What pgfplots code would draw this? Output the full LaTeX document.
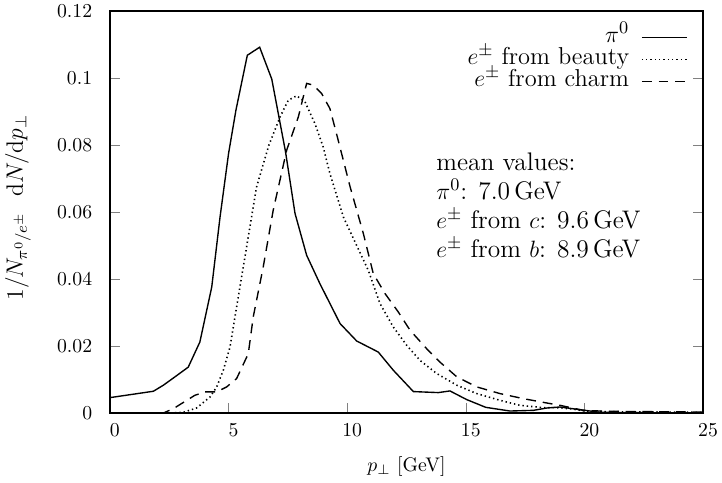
\documentclass[border=0pt]{standalone}
\usepackage{pgfplots}
\pgfplotsset{compat=1.18}
\begin{document}
\begin{tikzpicture}
\begin{axis}[
  scale only axis, width=301pt, height=204pt,
  xmin=0, xmax=25, ymin=0, ymax=0.12,
  xtick={0,5,10,15,20,25},
  ytick={0,0.02,0.04,0.06,0.08,0.1,0.12},
  yticklabels={0,0.02,0.04,0.06,0.08,0.1,0.12},
  xtick pos=left, ytick pos=both,
  tick align=inside, major tick length=5pt,
  axis line style={line width=0.6pt},
  xticklabel style={xshift=2.5pt, yshift=-2pt},
  yticklabel style={xshift=-5.5pt},
  xlabel={$p_\perp$\ [GeV]},
  ylabel={$1/N_{\pi^0/e^\pm}\ \ \mathrm{d}N/\mathrm{d}p_\perp$},
  every axis x label/.style={at={(axis description cs:0.5,0)}, anchor=center, yshift=-27pt},
  every axis y label/.style={at={(axis description cs:-0.155,0.511)}, anchor=center, rotate=90,
    font=\fontsize{12}{14}\selectfont},
  legend plot pos=right,
  legend cell align=right,
  legend image code/.code={\draw[#1] (0pt,0pt) -- (23pt,0pt);},
  legend style={draw=none, fill=none, font=\fontsize{12.4}{15}\selectfont,
    at={(rel axis cs:0.985,0.9726)}, anchor=north east,
    row sep=0pt, nodes={inner sep=0.5pt, text height=7.5pt, text depth=2.7pt},
    /tikz/every odd column/.append style={column sep=5.5pt}},
]
\addplot[black, line width=0.7pt] coordinates {
 (0,0.0046) (1.83,0.0065) (2.25,0.0083) (2.74,0.0108) (3.30,0.0137)
 (3.79,0.0212) (4.29,0.0376) (4.64,0.0585) (5.00,0.0775) (5.31,0.0904)
 (5.79,0.1068) (6.31,0.1092) (6.82,0.0997) (7.40,0.0780) (7.80,0.0596)
 (8.29,0.0471) (8.85,0.0386) (9.70,0.0267) (10.40,0.0215) (11.31,0.0182)
 (11.94,0.0128) (12.79,0.0064) (13.84,0.0061) (14.33,0.0066) (15.04,0.0040)
 (15.84,0.0017) (16.86,0.0006) (17.85,0.0008) (18.41,0.0015) (18.97,0.0018)
 (19.81,0.0010) (20.66,0.0002) (25,0.0000)
};
\addlegendentry{$\pi^0$}
\addplot[black, line width=0.8pt, dash pattern=on 0.7pt off 1.5pt] coordinates {
 (0,0) (2.5,0) (3.09,0.0002) (3.65,0.0015) (4.22,0.0048) (4.50,0.0078)
 (4.78,0.0128) (5.06,0.0197) (5.34,0.0317) (5.76,0.0496) (6.18,0.0675)
 (6.70,0.0800) (7.17,0.0884) (7.52,0.0934) (7.87,0.0947) (8.22,0.0929)
 (8.64,0.0864) (8.99,0.0794) (9.27,0.0715) (9.84,0.0585) (10.40,0.0500)
 (10.89,0.0426) (11.38,0.0327) (11.94,0.0257) (12.51,0.0202) (13.07,0.0157)
 (13.77,0.0118) (14.62,0.0083) (15.46,0.0058) (16.44,0.0038) (17.28,0.0023)
 (18.27,0.0016) (18.83,0.0016) (19.50,0.0012) (20.00,0.0006) (21.00,0.0004)
 (25,0.0002)
};
\addlegendentry{$e^\pm$ from beauty}
\addplot[black, line width=0.7pt, dash pattern=on 5pt off 3.5pt] coordinates {
 (0,0) (2.25,0) (2.67,0.0013) (3.58,0.0053) (4.00,0.0063) (4.50,0.0063)
 (4.92,0.0078) (5.34,0.0103) (5.83,0.0177) (6.04,0.0287) (6.46,0.0436)
 (6.88,0.0605) (7.45,0.0785) (7.94,0.0884) (8.29,0.0984) (8.57,0.0979)
 (8.92,0.0954) (9.27,0.0909) (9.60,0.0820) (10.12,0.0676) (10.68,0.0536)
 (11.10,0.0416) (11.59,0.0357) (12.15,0.0302) (12.65,0.0247) (13.35,0.0192)
 (13.91,0.0152) (14.62,0.0108) (15.46,0.0078) (16.44,0.0058) (17.42,0.0043)
 (18.41,0.0030) (18.97,0.0023) (19.95,0.0008) (21.00,0.0005) (25,0.0003)
};
\addlegendentry{$e^\pm$ from charm}
\node[anchor=north west, align=left, font=\fontsize{12.9}{14.7}\selectfont, inner sep=0pt]
  at (axis cs:13.74,0.0778)
  {mean values:\\ $\pi^0$: 7.0\,GeV\\ $e^\pm$ from $c$: 9.6\,GeV\\ $e^\pm$ from $b$: 8.9\,GeV};
\end{axis}
\pgfresetboundingbox
\path ([shift={(-55.8pt,-35.2pt)}]current axis.south west)
  rectangle ([shift={(9.6pt,5.6pt)}]current axis.north east);
\end{tikzpicture}
\end{document}
